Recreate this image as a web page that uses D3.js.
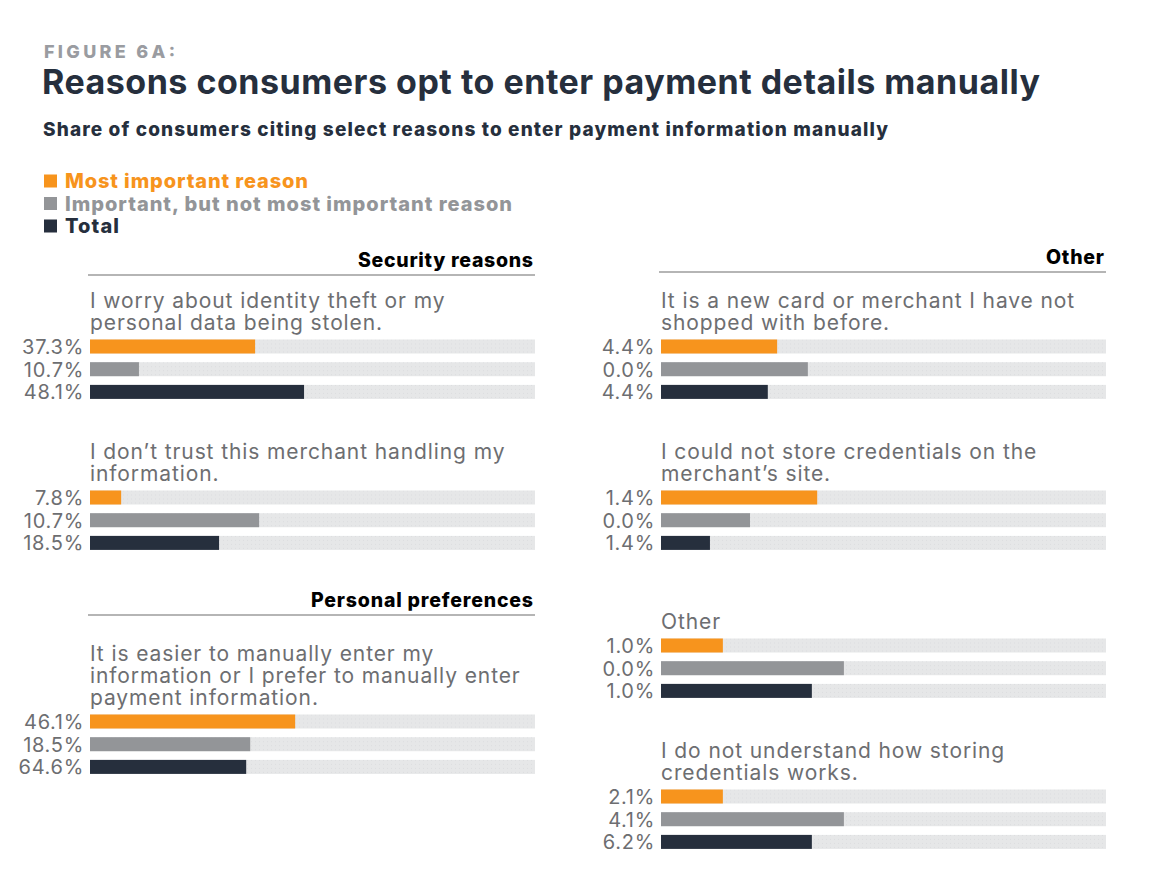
<!DOCTYPE html>
<html lang="en">
<head>
<meta charset="UTF-8">
<script src="https://cdn.jsdelivr.net/npm/d3@7"></script>
<title>Figure 6A</title>
<style>
  body { margin: 0; background: #fff; }
  text { font-family: Inter, "Open Sans", sans-serif; }
</style>
</head>
<body>
<svg id="chart" width="1168" height="886"></svg>
<script>
// legend / series names
var seriesNames = ["Most important reason", "Important, but not most important reason", "Total"];
var seriesColours = ["#f7941d", "#939598", "#262f3d"];

// section headings
var sections = ["Security reasons", "Personal preferences", "Other"];

// questions (already split in lines like the figure)
var questions = [
  ["I worry about identity theft or my", "personal data being stolen."],
  ["I don\u2019t trust this merchant handling my", "information."],
  ["It is easier to manually enter my", "information or I prefer to manually enter", "payment information."],
  ["It is a new card or merchant I have not", "shopped with before."],
  ["I could not store credentials on the", "merchant\u2019s site."],
  ["Other"],
  ["I do not understand how storing", "credentials works."]
];

// printed values (%)
var mostImportant = [37.3, 7.8, 46.1, 4.4, 1.4, 1.0, 2.1];
var important = [10.7, 10.7, 18.5, 0.0, 0.0, 0.0, 4.1];
var total = [48.1, 18.5, 64.6, 4.4, 1.4, 1.0, 6.2];

// bar lengths as they are drawn in the figure (share of the track, %)
// the original bars do not follow the printed values, so these are read off the picture
var barMost = [37.1, 7.0, 46.1, 26.1, 35.1, 13.9, 13.9];
var barImportant = [11.0, 38.0, 36.0, 33.0, 20.0, 41.1, 41.1];
var barTotal = [48.1, 29.0, 35.1, 24.0, 11.0, 33.9, 33.9];

// ---- layout (not data) ----
var svg = d3.select("#chart");
var cols = [{x0: 90, x1: 535}, {x0: 661, x1: 1106}];
// column and y of first text line for each question
var qCol = [0, 0, 0, 1, 1, 1, 1];
var qTop = [301, 452, 654, 301, 452, 622, 751];
// heading positions
var secCol = [0, 0, 1];
var secY = [260, 600, 257];
var secW = [175, 222, 58];
var legendW = [243, 447, 54];

var lineH = 22, barH = 14, barStep = 22.7;

var x = d3.scaleLinear().domain([0, 100]).range([0, 445]);

// header
svg.append("text").attr("x", 44).attr("y", 58)
  .style("font-size", "18px").style("font-weight", 800)
  .attr("textLength", 131).attr("lengthAdjust", "spacing")
  .attr("fill", "#9a9ca1").text("FIGURE 6A:");
svg.append("text").attr("x", 42).attr("y", 94)
  .style("font-size", "34px").style("font-weight", 700)
  .attr("textLength", 998).attr("lengthAdjust", "spacing")
  .attr("fill", "#262f3d").text("Reasons consumers opt to enter payment details manually");
svg.append("text").attr("x", 43).attr("y", 136)
  .style("font-size", "19px").style("font-weight", 800)
  .attr("textLength", 845).attr("lengthAdjust", "spacing")
  .attr("fill", "#262f3d").text("Share of consumers citing select reasons to enter payment information manually");

// legend
var legend = svg.append("g");
seriesNames.forEach(function(name, i) {
  var ly = 181 + i * 22.5;
  legend.append("rect").attr("x", 44).attr("y", ly - 6.5).attr("width", 13).attr("height", 13)
    .attr("fill", seriesColours[i]);
  legend.append("text").attr("x", 65).attr("y", ly + 7)
    .style("font-size", "20px").style("font-weight", 800)
    .attr("textLength", legendW[i]).attr("lengthAdjust", "spacing")
    .attr("fill", seriesColours[i]).text(name);
});

// section headings with rule
sections.forEach(function(s, i) {
  var c = cols[secCol[i]];
  svg.append("text").attr("x", c.x1 - 2 - secW[i]).attr("y", secY[i] + 7)
    .style("font-size", "19.5px").style("font-weight", 800)
    .attr("textLength", secW[i]).attr("lengthAdjust", "spacing")
    .attr("fill", "#000").text(s);
  svg.append("line").attr("x1", c.x0 - 2).attr("x2", c.x1).attr("y1", secY[i] + 15).attr("y2", secY[i] + 15)
    .attr("stroke", "#9d9d9d").attr("stroke-width", 1.5);
});

// dotted track pattern
var pat = svg.append("defs").append("pattern").attr("id", "dots")
  .attr("width", 4).attr("height", 4).attr("patternUnits", "userSpaceOnUse");
pat.append("rect").attr("width", 4).attr("height", 4).attr("fill", "#e6e7e8");
pat.append("rect").attr("x", 1).attr("y", 1).attr("width", 1).attr("height", 1).attr("fill", "#dcdddf");

var fmt = d3.format(".1f");

questions.forEach(function(lines, q) {
  var c = cols[qCol[q]];
  var g = svg.append("g").attr("transform", "translate(" + c.x0 + ",0)");
  var t = g.append("text").attr("fill", "#6d6e71").style("font-size", "21px")
    .style("font-weight", 400).style("letter-spacing", "0.9px");
  lines.forEach(function(l, j) {
    t.append("tspan").attr("x", 0).attr("y", qTop[q] + j * lineH + 7).text(l);
  });
  var firstBar = qTop[q] + (lines.length - 1) * lineH + 23.5;
  var rows = [
    {v: mostImportant[q], len: barMost[q]},
    {v: important[q], len: barImportant[q]},
    {v: total[q], len: barTotal[q]}
  ];
  var row = g.selectAll("g.row").data(rows).enter().append("g").attr("class", "row")
    .attr("transform", function(d, i) { return "translate(0," + (firstBar + i * barStep) + ")"; });
  row.append("rect").attr("x", 0).attr("y", -barH / 2).attr("width", x(100)).attr("height", barH)
    .attr("fill", "url(#dots)");
  row.append("rect").attr("x", 0).attr("y", -barH / 2).attr("width", function(d) { return x(d.len); })
    .attr("height", barH).attr("fill", function(d, i) { return seriesColours[i]; });
  row.append("text").attr("x", -6).attr("y", 7.5).attr("text-anchor", "end")
    .attr("fill", "#6d6e71").style("font-size", "20px").style("font-weight", 400)
    .style("letter-spacing", "0.7px")
    .text(function(d) { return fmt(d.v) + "%"; });
});
</script>
</body>
</html>
